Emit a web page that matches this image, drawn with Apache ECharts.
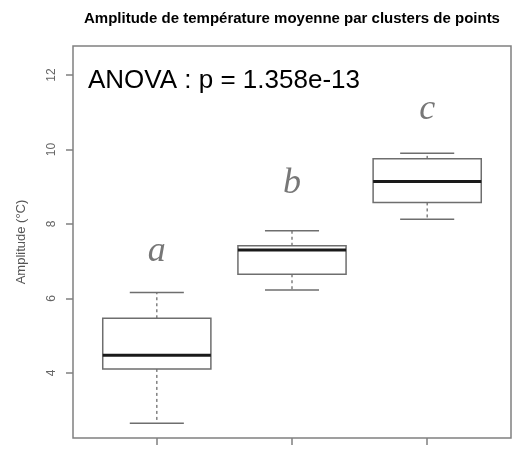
<!DOCTYPE html>
<html>
<head>
<meta charset="utf-8">
<script src="https://cdn.jsdelivr.net/npm/echarts@6/dist/echarts.min.js"></script>
<style>html,body{margin:0;padding:0;background:#fff;}#c{width:517px;height:450px;}</style>
</head>
<body>
<div id="c"></div>
<script>
const groups = [1, 2, 3];
const lowWhisker = [2.65, 6.23, 8.13];
const q1 = [4.11, 6.65, 8.58];
const median = [4.48, 7.30, 9.14];
const q3 = [5.47, 7.42, 9.75];
const highWhisker = [6.16, 7.82, 9.90];
const outliers = [[3, 12.38]];
const letters = ['a', 'b', 'c'];
const letterY = [7.25, 9.10, 11.08];
const yTicks = [4, 6, 8, 10, 12];

const chart = echarts.init(document.getElementById('c'));
const boxData = groups.map((g, i) => [g, lowWhisker[i], q1[i], median[i], q3[i], highWhisker[i]]);
const gray = '#6e6e6e';

chart.setOption({
  animation: false,
  backgroundColor: '#fff',
  title: {
    text: 'Amplitude de température moyenne par clusters de points',
    left: 287, top: 6, textAlign: 'center',
    textStyle: { fontFamily: 'Liberation Sans', fontSize: 15, fontWeight: 'bold', color: '#000' }
  },
  grid: { left: 73, top: 46, right: 6, bottom: 12, show: true, borderColor: '#808080', borderWidth: 1.5, backgroundColor: 'transparent' },
  xAxis: {
    type: 'value', min: 0.38, max: 3.62,
    axisLine: { show: false }, splitLine: { show: false },
    axisTick: { show: true, customValues: groups, length: 7, inside: false, lineStyle: { color: '#808080', width: 1.5 } },
    axisLabel: { show: false, customValues: groups }
  },
  yAxis: {
    type: 'value', min: 2.255, max: 12.78,
    name: 'Amplitude (°C)', nameLocation: 'middle', nameRotate: 90, nameGap: 45,
    nameTextStyle: { fontFamily: 'Liberation Sans', fontSize: 13, color: '#555' },
    axisLine: { show: false }, splitLine: { show: false },
    axisTick: { show: true, customValues: yTicks, length: 7, lineStyle: { color: '#808080', width: 1.5 } },
    axisLabel: { customValues: yTicks, rotate: 90, margin: 15, fontFamily: 'Liberation Sans', fontSize: 12, color: '#666' }
  },
  graphic: [{
    type: 'text', left: 88, top: 68,
    style: { text: 'ANOVA : p = 1.358e-13', fontFamily: 'Liberation Sans', fontSize: 26, fill: '#000' }
  }],
  series: [{
    type: 'custom',
    data: boxData,
    renderItem: function (params, api) {
      const x = api.value(0);
      const halfBox = api.size([0.4, 0])[0];
      const halfCap = api.size([0.2, 0])[0];
      const pLo = api.coord([x, api.value(1)]);
      const pQ1 = api.coord([x, api.value(2)]);
      const pMed = api.coord([x, api.value(3)]);
      const pQ3 = api.coord([x, api.value(4)]);
      const pHi = api.coord([x, api.value(5)]);
      const cx = pMed[0];
      const solid = { stroke: gray, lineWidth: 1.5, fill: null };
      const dashed = { stroke: gray, lineWidth: 1.3, lineDash: [3, 3] };
      return {
        type: 'group',
        children: [
          { type: 'line', shape: { x1: cx, y1: pQ3[1], x2: cx, y2: pHi[1] }, style: dashed },
          { type: 'line', shape: { x1: cx, y1: pQ1[1], x2: cx, y2: pLo[1] }, style: dashed },
          { type: 'line', shape: { x1: cx - halfCap, y1: pHi[1], x2: cx + halfCap, y2: pHi[1] }, style: solid },
          { type: 'line', shape: { x1: cx - halfCap, y1: pLo[1], x2: cx + halfCap, y2: pLo[1] }, style: solid },
          { type: 'rect', shape: { x: cx - halfBox, y: pQ3[1], width: 2 * halfBox, height: pQ1[1] - pQ3[1] }, style: { stroke: gray, lineWidth: 1.5, fill: '#fff' } },
          { type: 'line', shape: { x1: cx - halfBox, y1: pMed[1], x2: cx + halfBox, y2: pMed[1] }, style: { stroke: '#1a1a1a', lineWidth: 3 } }
        ]
      };
    }
  }, {
    type: 'scatter',
    data: outliers,
    symbol: 'emptyCircle', symbolSize: 7,
    itemStyle: { color: '#fff', borderColor: gray, borderWidth: 1.3 }
  }, {
    type: 'scatter',
    data: groups.map((g, i) => [g, letterY[i]]),
    symbolSize: 0,
    label: {
      show: true, position: 'inside',
      formatter: p => letters[p.dataIndex],
      fontFamily: 'Liberation Serif', fontStyle: 'italic', fontSize: 36, color: '#555'
    }
  }]
});
</script>
</body>
</html>
